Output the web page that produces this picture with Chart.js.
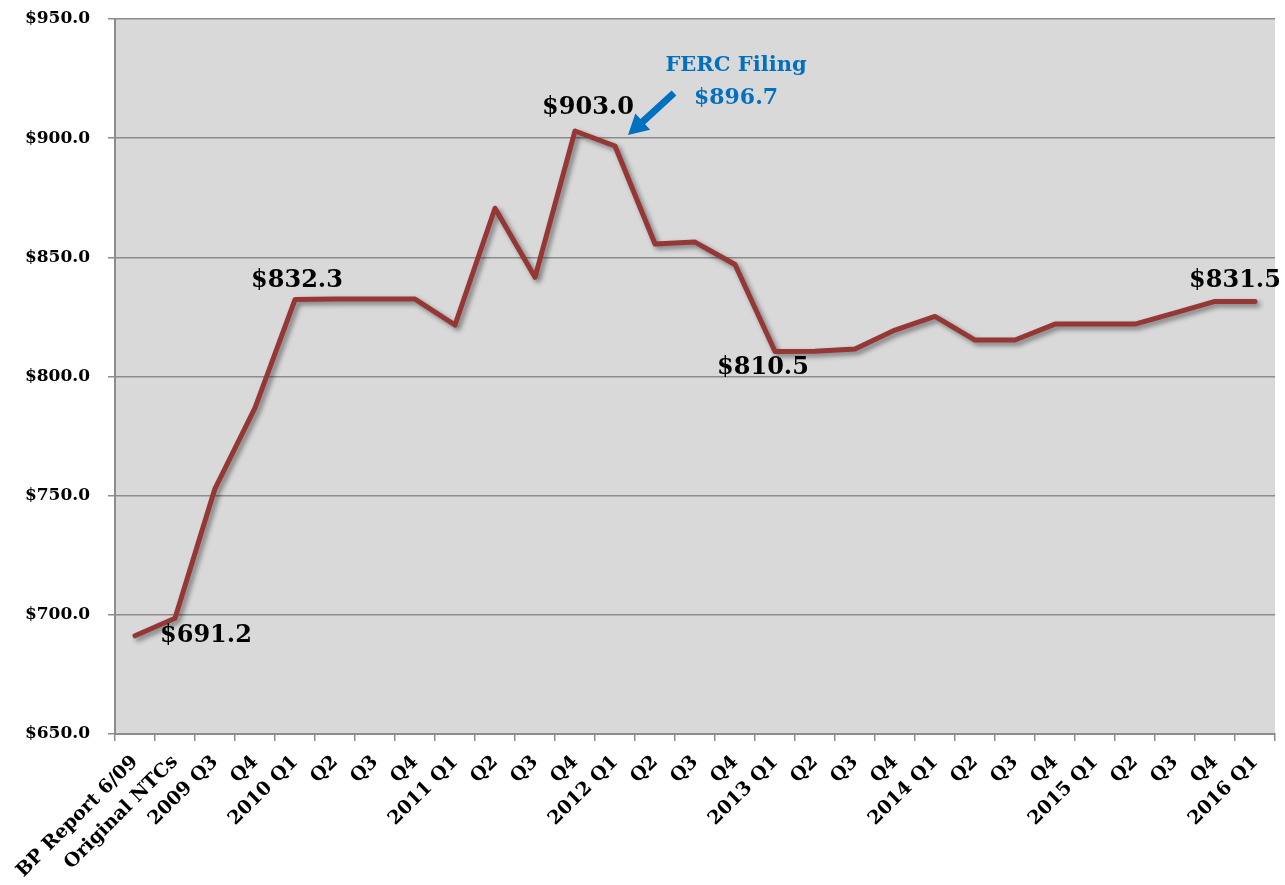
<!DOCTYPE html>
<html>
<head>
<meta charset="utf-8">
<script src="https://cdn.jsdelivr.net/npm/chart.js@4"></script>
<style>
  html, body { margin: 0; padding: 0; background: #fff; }
  #wrap { width: 1285px; height: 885px; }
</style>
</head>
<body>
<div id="wrap"><canvas id="chart"></canvas></div>
<script>
const categories = ['BP Report 6/09', 'Original NTCs', '2009 Q3', 'Q4', '2010 Q1', 'Q2', 'Q3', 'Q4',
  '2011 Q1', 'Q2', 'Q3', 'Q4', '2012 Q1', 'Q2', 'Q3', 'Q4', '2013 Q1', 'Q2', 'Q3', 'Q4',
  '2014 Q1', 'Q2', 'Q3', 'Q4', '2015 Q1', 'Q2', 'Q3', 'Q4', '2016 Q1'];
const costs = [691.2, 698.6, 753.0, 786.8, 832.3, 832.5, 832.5, 832.5, 821.6, 870.6, 841.6, 903.0,
  896.7, 855.6, 856.4, 847.0, 810.5, 810.6, 811.5, 819.5, 825.2, 815.3, 815.3, 822.0, 822.0,
  822.0, 826.7, 831.5, 831.5];
const yMin = 650, yMax = 950, yStep = 50;

// value callouts, placed relative to their point
const callouts = [
  { i: 0, text: '$691.2', dx: 25, dy: 0, align: 'left' },
  { i: 4, text: '$832.3', dx: 2, dy: -19, align: 'center' },
  { i: 11, text: '$903.0', dx: 13, dy: -23, align: 'center' },
  { i: 16, text: '$810.5', dx: -12, dy: 16, align: 'center' },
  { i: 28, text: '$831.5', dx: -20, dy: -21, align: 'center' }
];
const ferc = { i: 12, title: 'FERC Filing', value: '$896.7' };

const serif = '"DejaVu Serif", "Liberation Serif", serif';
const gridGray = '#8c8c8c';

const plotBg = {
  id: 'plotBg',
  beforeDraw(chart) {
    const { ctx, chartArea: a } = chart;
    ctx.save();
    ctx.fillStyle = '#d9d9d9';
    ctx.fillRect(a.left, a.top, a.right - a.left, a.bottom - a.top);
    ctx.restore();
  }
};

const lineShadow = {
  id: 'lineShadow',
  beforeDatasetsDraw(chart) {
    const ctx = chart.ctx;
    ctx.save();
    ctx.shadowColor = 'rgba(0,0,0,0.45)';
    ctx.shadowBlur = 5;
    ctx.shadowOffsetX = 3;
    ctx.shadowOffsetY = 3;
  },
  afterDatasetsDraw(chart) {
    chart.ctx.restore();
  }
};

const notes = {
  id: 'notes',
  afterDraw(chart) {
    const { ctx } = chart;
    const x = chart.scales.x, y = chart.scales.y;
    ctx.save();
    ctx.font = 'bold 24px ' + serif;
    ctx.fillStyle = '#000';
    ctx.textBaseline = 'middle';
    callouts.forEach(c => {
      const px = x.getPixelForValue(c.i), py = y.getPixelForValue(costs[c.i]);
      ctx.textAlign = c.align;
      ctx.fillText(c.text, px + c.dx, py + c.dy);
    });

    // FERC callout with arrow
    const fx = x.getPixelForValue(ferc.i), fy = y.getPixelForValue(costs[ferc.i]);
    ctx.fillStyle = '#0070c0';
    ctx.textAlign = 'center';
    ctx.font = 'bold 21px ' + serif;
    ctx.fillText(ferc.title, fx + 121, fy - 80);
    ctx.font = 'bold 22px ' + serif;
    ctx.fillText(ferc.value, fx + 121, fy - 48);

    const tipX = fx + 13, tipY = fy - 11;
    const tailX = fx + 59, tailY = fy - 53;
    const ang = Math.atan2(tailY - tipY, tailX - tipX);
    const headLen = 20, headW = 11, shaft = 3.5;
    const ux = Math.cos(ang), uy = Math.sin(ang);
    const nx = -uy, ny = ux;
    const bx = tipX + ux * headLen, by = tipY + uy * headLen;
    ctx.beginPath();
    ctx.moveTo(tipX, tipY);
    ctx.lineTo(bx + nx * headW, by + ny * headW);
    ctx.lineTo(bx + nx * shaft, by + ny * shaft);
    ctx.lineTo(tailX + nx * shaft, tailY + ny * shaft);
    ctx.lineTo(tailX - nx * shaft, tailY - ny * shaft);
    ctx.lineTo(bx - nx * shaft, by - ny * shaft);
    ctx.lineTo(bx - nx * headW, by - ny * headW);
    ctx.closePath();
    ctx.fill();
    ctx.restore();
  }
};

new Chart(document.getElementById('chart'), {
  type: 'line',
  data: {
    labels: categories,
    datasets: [{
      data: costs,
      borderColor: '#953735',
      borderWidth: 5,
      borderCapStyle: 'round',
      borderJoinStyle: 'round',
      tension: 0,
      pointRadius: 0,
      fill: false
    }]
  },
  options: {
    responsive: true,
    maintainAspectRatio: false,
    animation: false,
    layout: { padding: { top: 19, right: 10, left: 0, bottom: 0 } },
    plugins: {
      legend: { display: false },
      tooltip: { enabled: false }
    },
    scales: {
      x: {
        offset: true,
        afterFit(scale) { scale.height = 151; },
        grid: { offset: true, drawOnChartArea: false, drawTicks: true, tickLength: 7, color: gridGray, lineWidth: 1.5 },
        border: { display: true, color: gridGray, width: 2 },
        ticks: {
          autoSkip: false, minRotation: 45, maxRotation: 45, padding: 10,
          color: '#000', font: { family: serif, weight: 'bold', size: 19 }
        }
      },
      y: {
        min: yMin, max: yMax,
        afterFit(scale) { scale.width = 115; scale.paddingTop = 0; scale.paddingBottom = 0; },
        grid: { color: gridGray, lineWidth: 1.5, drawTicks: true, tickLength: 7 },
        border: { display: true, color: gridGray, width: 2 },
        ticks: {
          stepSize: yStep, padding: 18, color: '#000',
          font: { family: serif, weight: 'bold', size: 17 },
          callback: v => '$' + v.toFixed(1)
        }
      }
    }
  },
  plugins: [plotBg, lineShadow, notes]
});
</script>
</body>
</html>
